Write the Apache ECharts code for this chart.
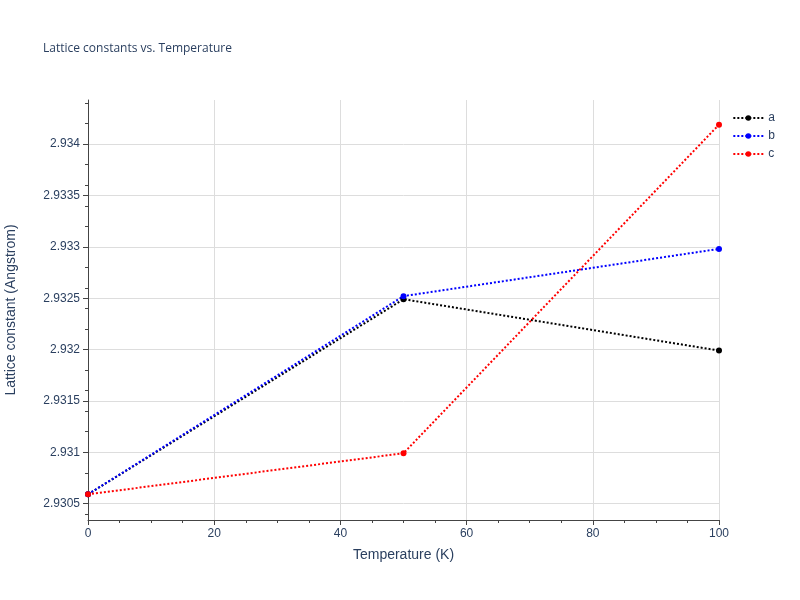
<!DOCTYPE html><html><head><meta charset="utf-8"><script src="https://cdn.jsdelivr.net/npm/echarts@6/dist/echarts.min.js"></script></head><body style="margin:0"><div id="c" style="width:800px;height:600px"></div><script>
const temps=[0,50,100];
const aVals=[2.93059,2.93249,2.93199];
const bVals=[2.93059,2.93252,2.93298];
const cVals=[2.93059,2.93099,2.93419];
const yTicks=[2.9305,2.931,2.9315,2.932,2.9325,2.933,2.9335,2.934];
const names=['a','b','c'];const colors=['#000000','#0000ff','#ff0000'];
const ch=echarts.init(document.getElementById('c'));
const tc='#2a3f5f';
ch.setOption({
 title:{text:'Lattice constants vs. Temperature',left:38,top:38,textStyle:{fontSize:12,fontWeight:'normal',color:tc,fontFamily:'Open Sans'}},
 legend:{orient:'vertical',right:20,top:107,itemGap:6,itemWidth:30,itemHeight:7,textStyle:{color:tc,fontSize:12},data:names},
 grid:{left:88,right:81,top:100,bottom:80,containLabel:false,outerBoundsMode:'none'},
 xAxis:{type:'value',min:0,max:100,interval:20,name:'Temperature (K)',nameLocation:'middle',nameGap:28,nameTextStyle:{fontSize:14,color:tc},
  axisLine:{lineStyle:{color:'#444'}},axisTick:{show:true,lineStyle:{color:'#444'}},minorTick:{show:true,splitNumber:4},
  axisLabel:{color:tc},splitLine:{show:true,lineStyle:{color:'#ddd'}}},
 yAxis:{type:'value',min:2.93034,max:2.93443,name:'Lattice constant (Angstrom)',nameLocation:'middle',nameGap:70,nameTextStyle:{fontSize:14,color:tc},
  axisLine:{show:true,lineStyle:{color:'#444'}},minorTick:{show:true,splitNumber:5},
  axisLabel:{color:tc,customValues:yTicks,formatter:v=>String(+v.toFixed(4))},
  axisTick:{show:true,customValues:yTicks,lineStyle:{color:'#444'}},
  splitLine:{show:true,lineStyle:{color:'#ddd'}}},
 series:[aVals,bVals,cVals].map((v,i)=>({name:names[i],type:'line',data:temps.map((t,j)=>[t,v[j]]),symbol:'circle',symbolSize:6,
  lineStyle:{type:'dotted',width:2,color:colors[i]},itemStyle:{color:colors[i]}}))
});
</script></body></html>
